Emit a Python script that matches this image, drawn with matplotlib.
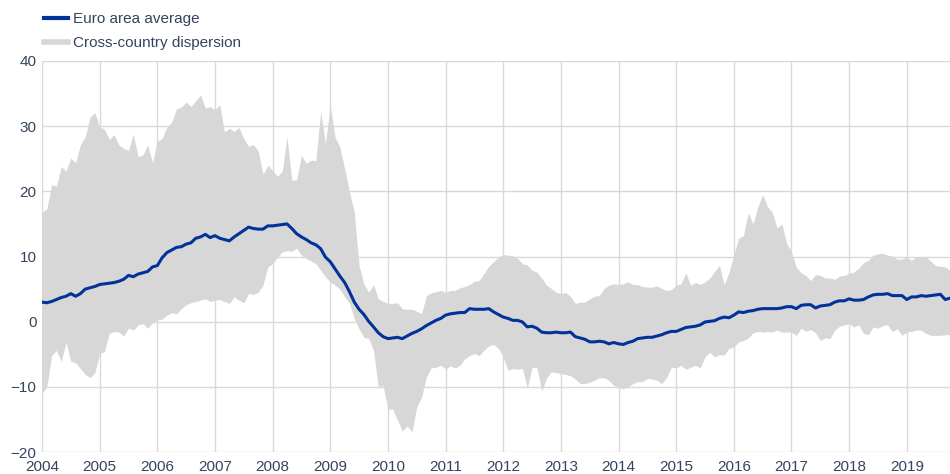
import numpy as np
import matplotlib
matplotlib.use("Agg")
import matplotlib.pyplot as plt
from matplotlib.lines import Line2D

# Monthly data, Jan 2004 - Oct 2019
upper = [
    16.8, 17.3, 21.0, 20.8, 23.8, 23.1, 25.1, 24.4, 27.2, 28.4, 31.4, 32.1,   # 2004
    29.9, 29.5, 28.0, 28.7, 27.1, 26.6, 26.3, 28.8, 25.3, 25.6, 27.1, 24.4,   # 2005
    27.7, 28.1, 29.9, 30.6, 32.7, 32.9, 33.7, 33.0, 33.9, 34.8, 32.8, 33.0,   # 2006
    32.5, 33.3, 29.1, 29.7, 29.2, 29.8, 28.1, 26.9, 27.2, 26.2, 22.6, 24.0,   # 2007
    23.2, 22.3, 23.1, 28.4, 21.7, 21.8, 25.5, 24.3, 24.8, 24.7, 32.3, 27.3,   # 2008
    33.2, 28.3, 26.8, 23.5, 19.9, 16.8, 8.6, 5.8, 4.5, 5.7, 3.5, 3.1,         # 2009
    2.8, 2.8, 2.9, 2.0, 1.9, 1.9, 1.6, 1.2, 4.0, 4.4, 4.6, 4.8,               # 2010
    4.5, 4.8, 4.8, 5.2, 5.4, 5.7, 6.2, 6.3, 7.4, 8.5, 9.2, 9.9,               # 2011
    10.3, 10.2, 10.1, 9.7, 8.9, 8.7, 7.9, 7.6, 6.7, 5.6, 5.1, 4.5,            # 2012
    4.3, 4.5, 3.9, 2.8, 3.0, 3.0, 3.5, 3.9, 4.0, 5.1, 5.6, 5.8,               # 2013
    5.7, 5.8, 6.1, 5.7, 5.7, 5.4, 5.3, 5.3, 5.5, 5.1, 4.8, 4.9,               # 2014
    5.6, 5.8, 7.5, 5.6, 6.0, 5.7, 6.1, 6.7, 7.7, 8.6, 5.7, 7.6,               # 2015
    10.2, 12.8, 13.2, 16.7, 15.0, 17.6, 19.5, 17.7, 16.8, 14.4, 15.0, 12.0,   # 2016
    10.7, 8.4, 7.5, 7.1, 6.3, 7.2, 7.1, 6.7, 6.7, 6.5, 7.0, 7.1,              # 2017
    7.4, 7.6, 8.2, 9.1, 9.4, 10.2, 10.4, 10.5, 10.2, 10.1, 9.6, 9.6,          # 2018
    9.9, 9.4, 10.0, 10.0, 9.9, 9.3, 8.6, 8.5, 8.4, 7.9,                       # 2019
]
lower = [
    -11.0, -10.0, -5.2, -4.4, -6.1, -3.2, -6.1, -6.3, -7.2, -8.1, -8.6, -7.8,
    -4.9, -4.6, -1.8, -1.5, -1.6, -2.2, -1.0, -1.3, -0.5, -0.3, -1.0, -0.2,
    0.3, 0.4, 1.0, 1.4, 1.2, 2.0, 2.6, 2.9, 3.1, 3.3, 3.5, 3.1,
    3.3, 3.4, 3.1, 2.8, 3.8, 3.3, 2.9, 4.3, 4.2, 4.5, 5.6, 8.4,
    8.9, 9.9, 10.7, 10.9, 10.8, 11.3, 10.2, 9.7, 9.3, 8.9, 7.9, 6.9,
    6.1, 5.6, 5.0, 3.8, 2.8, 0.5, -1.1, -2.4, -2.6, -4.4, -10.0, -9.8,
    -13.4, -13.4, -15.1, -16.8, -16.0, -16.9, -13.1, -11.6, -8.5, -7.1, -7.0, -6.7,
    -7.2, -6.8, -7.1, -6.7, -5.7, -5.2, -4.9, -5.2, -4.4, -3.7, -3.5, -4.1,
    -5.4, -7.5, -7.2, -7.3, -7.2, -10.2, -7.0, -7.0, -10.7, -8.7, -7.7, -7.8,
    -8.0, -8.1, -8.3, -8.8, -9.5, -9.5, -9.3, -9.0, -8.6, -8.6, -9.0, -9.8,
    -10.0, -10.3, -10.0, -9.5, -9.2, -9.2, -8.7, -8.8, -9.0, -9.5, -8.6, -7.0,
    -7.1, -6.7, -7.3, -7.0, -6.7, -7.1, -5.4, -4.7, -5.4, -5.1, -5.1, -4.1,
    -3.9, -3.1, -2.9, -2.5, -1.7, -1.5, -1.6, -1.5, -1.6, -1.3, -1.6, -1.6,
    -1.6, -2.1, -1.0, -1.5, -1.2, -1.7, -2.9, -2.5, -2.6, -1.3, -0.7, -0.5,
    -0.3, -0.8, -0.5, -1.8, -2.0, -0.8, -1.0, -0.6, -0.5, -1.5, -1.1, -2.1,
    -1.6, -1.5, -1.3, -1.3, -1.8, -2.1, -2.1, -2.1, -2.0, -2.0,
]
average = [
    3.0, 2.9, 3.1, 3.4, 3.7, 3.9, 4.3, 3.9, 4.3, 5.0, 5.2, 5.4,
    5.7, 5.8, 5.9, 6.0, 6.2, 6.5, 7.1, 6.9, 7.3, 7.5, 7.7, 8.4,
    8.6, 9.8, 10.6, 11.0, 11.4, 11.5, 11.9, 12.1, 12.8, 13.0, 13.4, 12.9,
    13.2, 12.8, 12.6, 12.4, 13.0, 13.5, 14.0, 14.5, 14.3, 14.2, 14.2, 14.7,
    14.7, 14.8, 14.9, 15.0, 14.3, 13.5, 13.0, 12.6, 12.1, 11.8, 11.2, 9.9,
    9.2, 8.1, 7.0, 6.0, 4.6, 3.0, 1.9, 1.1, 0.05, -0.8, -1.7, -2.3,
    -2.6, -2.5, -2.4, -2.6, -2.2, -1.8, -1.5, -1.1, -0.6, -0.2, 0.2, 0.5,
    1.0, 1.2, 1.3, 1.4, 1.4, 2.0, 1.9, 1.9, 1.9, 2.0, 1.5, 1.1,
    0.7, 0.5, 0.2, 0.2, -0.05, -0.8, -0.7, -1.0, -1.6, -1.7, -1.7, -1.6,
    -1.7, -1.7, -1.6, -2.3, -2.5, -2.7, -3.1, -3.1, -3.0, -3.1, -3.4, -3.2,
    -3.4, -3.5, -3.2, -3.0, -2.6, -2.5, -2.4, -2.4, -2.2, -2.0, -1.7, -1.5,
    -1.5, -1.2, -0.9, -0.8, -0.7, -0.5, -0.05, 0.05, 0.15, 0.5, 0.7, 0.6,
    1.0, 1.5, 1.4, 1.6, 1.7, 1.9, 2.0, 2.0, 2.0, 2.0, 2.1, 2.3,
    2.3, 2.0, 2.5, 2.6, 2.6, 2.1, 2.4, 2.5, 2.6, 3.0, 3.2, 3.2,
    3.5, 3.3, 3.3, 3.4, 3.8, 4.1, 4.2, 4.2, 4.3, 4.0, 4.0, 4.0,
    3.4, 3.8, 3.8, 4.0, 3.9, 4.0, 4.1, 4.2, 3.4, 3.6,
]
start_year = 2004
year_ticks = list(range(2004, 2020))
y_ticks = [-20, -10, 0, 10, 20, 30, 40]
labels = ["Euro area average", "Cross-country dispersion"]

n = len(average)
t = start_year + np.arange(n) / 12.0

plt.rcParams['font.family'] = ['Liberation Sans', 'DejaVu Sans']
text_color = '#34435e'
blue = '#003299'
band = '#d7d7d7'
grid = '#d9d9d9'

fig = plt.figure(figsize=(9.5, 4.74), dpi=100)
ax = fig.add_axes([42/950, 1-452/474, 1-42/950, (452-61)/474])

ax.fill_between(t, lower, upper, color=band, linewidth=0, zorder=1)
ax.plot(t, average, color=blue, linewidth=2.2, zorder=3, solid_joinstyle='round')

ax.set_xlim(start_year, t[-1])
ax.set_ylim(-20, 40)
ax.set_xticks(year_ticks)
ax.set_xticklabels([str(y) for y in year_ticks])
ax.set_yticks(y_ticks)
ax.grid(True, color=grid, linewidth=1.0, zorder=0)
ax.set_axisbelow(True)
for s in ax.spines.values():
    s.set_visible(False)
ax.tick_params(axis='both', length=0, labelsize=11, colors=text_color)
ax.tick_params(axis='x', pad=6)
ax.tick_params(axis='y', pad=4)

handles = [Line2D([], [], color=blue, linewidth=3.0),
           Line2D([], [], color=band, linewidth=4.0)]
fig.legend(handles, labels, loc='upper left', bbox_to_anchor=(44/950, 1-12/474),
           frameon=False, fontsize=11, handlelength=1.6, handletextpad=0.3,
           labelspacing=0.68, borderpad=0, borderaxespad=0, labelcolor=text_color)

fig.savefig('out.png', dpi=100)
